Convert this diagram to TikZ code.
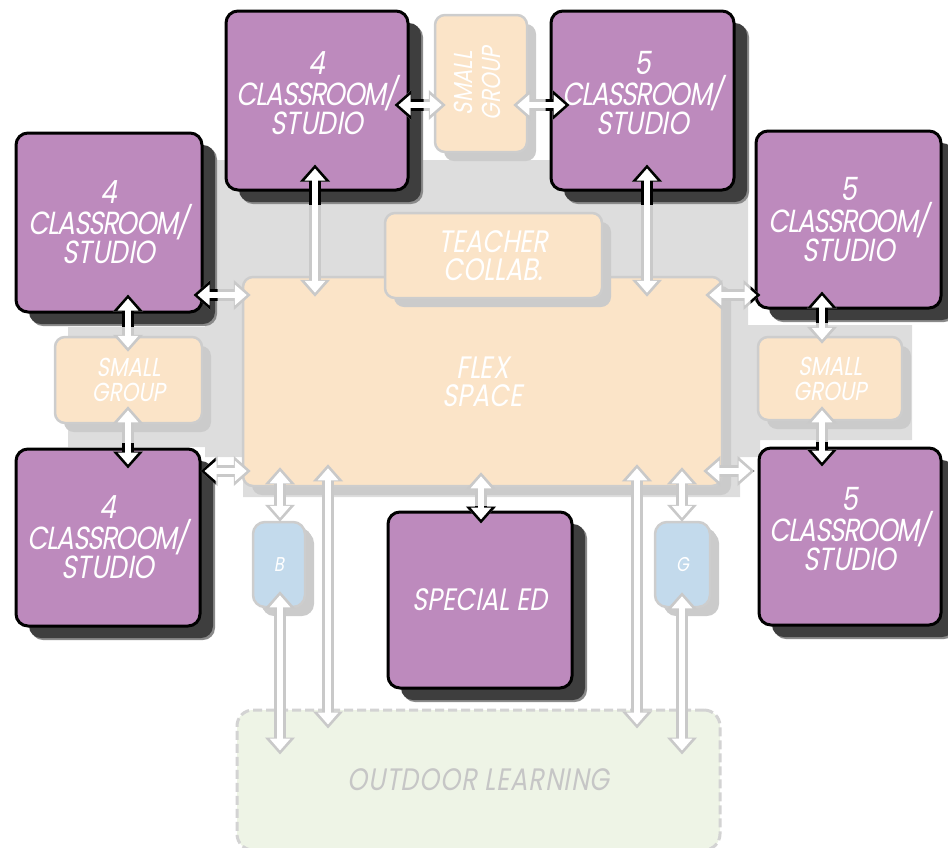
\documentclass[tikz,border=0pt]{standalone}
\usepackage{fontspec}
\setmainfont{Poppins}
\newfontfamily\lab[FakeSlant=0.18,FakeStretch=0.82]{Poppins}
\usetikzlibrary{shadows,calc,arrows.meta}
\definecolor{purp}{HTML}{BD8ABD}
\definecolor{shd}{HTML}{3E3E3E}
\definecolor{shdl}{HTML}{8A8A8A}
\definecolor{peach}{HTML}{FBE4C8}
\definecolor{pbord}{HTML}{CDCDCD}
\definecolor{pshd}{HTML}{CBCBCB}
\definecolor{panel}{HTML}{DDDDDD}
\definecolor{bluebox}{HTML}{C3DAEC}
\definecolor{outfill}{HTML}{EEF4E6}
\definecolor{outline}{HTML}{D3D3D3}
\definecolor{outtext}{HTML}{C6C6C6}
\definecolor{aline}{HTML}{C9C9C9}
\newcommand\cls{{\addfontfeature{LetterSpace=-4}CLASSROOM/}}
\newcommand\biarr[3]{%
  \draw[aout] #1 -- #2;
  \begin{scope}
    \clip ($(#3.north west)+(-4,-4)$) rectangle ($(#3.south east)+(14,13)$);
    \draw[aout,draw=black] #1 -- #2;
  \end{scope}
  \draw[ain] #1 -- #2;}
\newcommand\plainarr[2]{%
  \draw[aout] #1 -- #2;
  \draw[ain] #1 -- #2;}
\begin{document}
\begin{tikzpicture}[x=1pt,y=-1pt,
  room/.style={draw=black, line width=3pt, fill=purp, rounded corners=12pt,
    text=white, align=center, inner sep=0pt,
    font=\lab\fontsize{32}{25}\selectfont,
    drop shadow={shadow xshift=15pt, shadow yshift=-14pt, fill=shdl, opacity=1},
    drop shadow={shadow xshift=13pt, shadow yshift=-12pt, fill=shd, opacity=1}},
  soft/.style={draw=pbord, line width=2.5pt, fill=peach, rounded corners=10pt,
    text=white, align=center, inner sep=0pt,
    drop shadow={shadow xshift=9pt, shadow yshift=-9pt, fill=pshd, opacity=1}},
  aout/.style={line width=12pt, draw=aline,
    {Triangle[length=17pt,width=29pt]}-{Triangle[length=17pt,width=29pt]}},
  ain/.style={line width=6pt, draw=white, shorten <=4pt, shorten >=4pt,
    {Triangle[length=12pt,width=20pt]}-{Triangle[length=12pt,width=20pt]}}
]
\useasboundingbox (0,0) rectangle (948,847);
% grey panel
\fill[panel] (205,160) -- (748,160) -- (748,325) -- (912,325) -- (912,440)
  -- (760,440) -- (760,457) -- (740,457) -- (740,497) -- (243,497) -- (243,457)
  -- (205,457) -- (205,447) -- (68,447) -- (68,327) -- (205,327) -- cycle;

% outdoor
\node[draw=outline, line width=3pt, dash pattern=on 9pt off 4pt, fill=outfill,
  rounded corners=16pt, minimum width=483pt, minimum height=140pt,
  text=outtext, font=\lab\fontsize{31}{31}\selectfont] (outdoor) at (478.5,780)
  {\addfontfeature{LetterSpace=3}OUTDOOR LEARNING};

% light rooms
\node[soft, minimum width=479pt, minimum height=209pt, font=\lab\fontsize{31}{28}\selectfont] (flex) at (482.5,381.5) {FLEX\\SPACE};
\node[soft, minimum width=217pt, minimum height=85pt, font=\lab\fontsize{31}{28}\selectfont] (teach) at (493.5,255.5) {TEACHER\\COLLAB.};
\node[soft, minimum width=92pt, minimum height=137pt, font=\lab\fontsize{26}{28}\selectfont] (sgtop) at (481,83.5)
  {\rotatebox{90}{\begin{tabular}{@{}c@{}}SMALL\\GROUP\end{tabular}}};
\node[soft, minimum width=147pt, minimum height=86pt, font=\lab\fontsize{26}{25}\selectfont] (sgleft) at (128.5,380) {SMALL\\GROUP};
\node[soft, minimum width=144pt, minimum height=83pt, font=\lab\fontsize{26}{25}\selectfont] (sgright) at (830,378.5) {SMALL\\GROUP};
\node[soft, fill=bluebox, rounded corners=12pt, minimum width=52pt, minimum height=85pt,
  drop shadow={shadow xshift=7pt, shadow yshift=-6pt, fill=pshd, opacity=1},
  font=\lab\fontsize{20}{20}\selectfont] (bbox) at (279,564.5) {B};
\node[soft, fill=bluebox, rounded corners=12pt, minimum width=55pt, minimum height=85pt,
  drop shadow={shadow xshift=7pt, shadow yshift=-6pt, fill=pshd, opacity=1},
  font=\lab\fontsize{20}{20}\selectfont] (gbox) at (682.5,564.5) {G};

% classrooms
\node[room, minimum width=182pt, minimum height=179pt] (c4top) at (317,100.5) {4\\\cls\\STUDIO\\[-10pt]\mbox{}};
\node[room, minimum width=186pt, minimum height=179pt] (c4mid) at (109,222.5) {4\\\cls\\STUDIO};
\node[room, minimum width=184pt, minimum height=177pt] (c4bot) at (108,537.5) {4\\\cls\\STUDIO};
\node[room, minimum width=183pt, minimum height=179pt] (c5top) at (642.5,100.5) {5\\\cls\\STUDIO\\[-10pt]\mbox{}};
\node[room, minimum width=185pt, minimum height=177pt] (c5mid) at (848.5,219.5) {5\\\cls\\STUDIO};
\node[room, minimum width=182pt, minimum height=177pt] (c5bot) at (850,536.5) {5\\\cls\\STUDIO\\[-10pt]\mbox{}};
\node[room, minimum width=184pt, minimum height=176pt, font=\lab\fontsize{31}{31}\selectfont] (sped) at (480,600) {SPECIAL ED};

% connectors
\biarr{($(c4top.east)+(-15,4.5)$)}{($(sgtop.west)+(12,21.5)$)}{c4top}
\biarr{($(c5top.west)+(20,4.5)$)}{($(sgtop.east)+(-15,21.5)$)}{c5top}
\biarr{($(c4top.south)+(-2,-27)$)}{($(flex.north)+(-167.5,21)$)}{c4top}
\biarr{($(c5top.south)+(4.5,-27)$)}{($(flex.north)+(164.5,21)$)}{c5top}
\biarr{($(c4mid.east)+(-10,72.5)$)}{($(flex.west)+(9,-86.5)$)}{c4mid}
\biarr{($(c4mid.south)+(19,-19)$)}{($(sgleft.north)+(-0.5,16)$)}{c4mid}
\biarr{($(c4bot.north)+(20,21)$)}{($(sgleft.south)+(-0.5,-18)$)}{c4bot}
\biarr{($(c4bot.east)+(-1,-66.5)$)}{($(flex.west)+(9,89.5)$)}{c4bot}
\biarr{($(c5mid.west)+(6,75.5)$)}{($(flex.east)+(-18,-86.5)$)}{c5mid}
\biarr{($(c5mid.south)+(-26.5,-18)$)}{($(sgright.north)+(-8,8)$)}{c5mid}
\biarr{($(c5bot.north)+(-28,20)$)}{($(sgright.south)+(-8,-15)$)}{c5bot}
\biarr{($(c5bot.west)+(-3,-65.5)$)}{($(flex.east)+(-20,89.5)$)}{c5bot}
\biarr{($(sped.north)+(1,13)$)}{($(flex.south)+(-1.5,-15)$)}{sped}
\plainarr{($(flex.south)+(-202.5,-20)$)}{($(bbox.north)+(1,1)$)}
\plainarr{($(bbox.south)+(1,-17)$)}{($(outdoor.north)+(-198.5,46)$)}
\plainarr{($(flex.south)+(-154.5,-23)$)}{($(outdoor.north)+(-150.5,20)$)}
\plainarr{($(flex.south)+(154.5,-23)$)}{($(outdoor.north)+(158.5,20)$)}
\plainarr{($(flex.south)+(199.5,-20)$)}{($(gbox.north)+(-0.5,1)$)}
\plainarr{($(gbox.south)+(-0.5,-16)$)}{($(outdoor.north)+(203.5,46)$)}
\end{tikzpicture}
\end{document}
